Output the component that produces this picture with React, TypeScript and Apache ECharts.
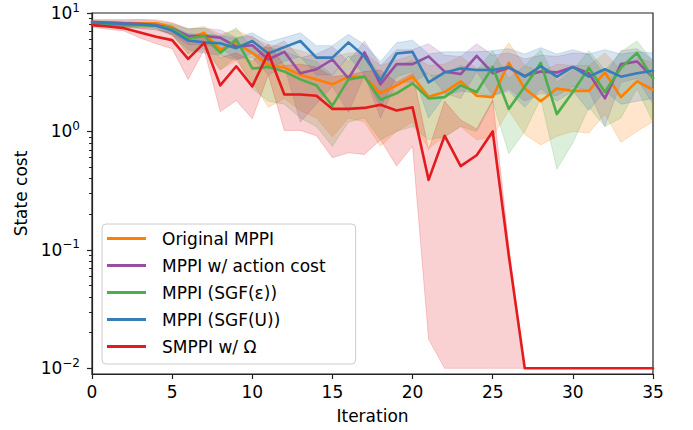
import React, { useEffect, useRef } from "react";
import * as echarts from "echarts";

const FONT = "DejaVu Sans";

const iterations = [0, 1, 2, 3, 4, 5, 6, 7, 8, 9, 10, 11, 12, 13, 14, 15, 16, 17, 18, 19, 20, 21, 22, 23, 24, 25, 26, 27, 28, 29, 30, 31, 32, 33, 34, 35];

const seriesNames = ["Original MPPI", "MPPI w/ action cost", "MPPI (SGF(ε))", "MPPI (SGF(U))", "SMPPI w/ Ω"];
const seriesColors = ["#ff7f00", "#984ea3", "#4daf4a", "#377eb8", "#e41a1c"];

// Original MPPI
const origMean = [8.4, 8.3, 8.2, 8.2, 8.2, 7.6, 6.1, 6.8, 4.9, 5.6, 4.6, 3.65, 3.45, 3.0, 2.75, 2.5, 2.9, 2.9, 2.1, 2.45, 2.9, 1.96, 2.15, 2.65, 2.0, 1.95, 3.8, 2.3, 1.8, 2.3, 2.2, 2.2, 3.15, 1.95, 2.65, 2.25];
const origLow = [7.9, 7.8, 7.6, 7.5, 7.4, 6.5, 4.5, 5.5, 3.3, 4.0, 2.6, 1.6, 1.9, 1.5, 1.3, 0.9, 1.3, 1.2, 0.75, 1.0, 1.2, 0.72, 0.9, 1.1, 0.85, 0.9, 1.5, 0.94, 0.77, 0.91, 1.0, 0.97, 1.4, 0.81, 1.0, 1.21];
const origHigh = [8.7, 8.7, 8.7, 8.8, 8.8, 8.3, 7.3, 7.7, 6.6, 7.2, 6.2, 5.4, 5.2, 4.8, 4.3, 4.2, 4.6, 4.6, 3.6, 4.0, 4.4, 3.6, 3.7, 4.3, 3.4, 3.6, 5.6, 3.6, 3.2, 3.7, 3.6, 3.6, 4.6, 3.3, 4.2, 3.8];

// MPPI w/ action cost
const actMean = [8.4, 8.3, 8.2, 8.1, 7.9, 7.4, 6.4, 6.4, 6.2, 5.2, 5.35, 4.05, 4.7, 3.1, 3.35, 4.05, 2.8, 4.65, 2.5, 3.7, 3.7, 4.3, 3.2, 3.05, 4.35, 3.1, 3.45, 2.95, 3.2, 3.15, 3.5, 3.1, 1.9, 3.7, 3.9, 2.85];
const actLow = [8.0, 7.8, 7.6, 7.4, 7.2, 6.6, 5.4, 5.4, 5.1, 4.1, 4.2, 3.0, 3.6, 1.2, 1.7, 2.4, 1.45, 3.0, 1.3, 2.6, 2.6, 3.1, 2.1, 1.9, 3.2, 2.0, 2.3, 1.8, 2.1, 2.0, 2.4, 2.2, 1.1, 2.6, 2.8, 1.7];
const actHigh = [8.8, 8.8, 8.8, 8.8, 8.6, 8.2, 7.4, 7.4, 7.2, 6.2, 6.4, 5.0, 5.8, 4.2, 4.5, 5.2, 3.9, 5.8, 3.6, 4.9, 4.9, 5.5, 4.4, 4.3, 5.5, 4.4, 4.6, 4.1, 4.4, 4.3, 4.6, 4.5, 3.0, 4.8, 5.0, 4.0];

// MPPI (SGF(eps))
const epsMean = [8.1, 8.0, 7.9, 7.9, 7.8, 7.4, 6.1, 6.4, 4.6, 6.0, 3.4, 3.5, 3.2, 2.75, 2.45, 1.65, 2.75, 2.9, 1.85, 2.1, 2.55, 1.9, 1.95, 2.45, 2.15, 3.5, 1.55, 2.4, 3.8, 1.4, 2.15, 3.45, 2.15, 3.45, 4.6, 2.8];
const epsLow = [7.8, 7.7, 7.6, 7.6, 7.4, 6.6, 4.5, 5.0, 3.3, 4.3, 2.3, 1.8, 1.7, 1.3, 1.1, 0.75, 1.2, 1.3, 0.85, 1.0, 1.1, 0.85, 0.9, 1.1, 1.0, 1.8, 0.65, 1.0, 1.9, 0.48, 0.8, 1.6, 1.1, 1.3, 2.3, 1.2];
const epsHigh = [8.5, 8.5, 8.4, 8.4, 8.3, 8.0, 7.3, 7.5, 6.2, 7.5, 5.0, 5.2, 4.7, 4.2, 3.9, 3.0, 4.3, 4.5, 3.0, 3.5, 4.0, 3.0, 3.0, 3.6, 3.3, 4.8, 2.8, 3.6, 4.9, 2.6, 3.3, 4.8, 3.3, 4.7, 5.8, 3.9];

// MPPI (SGF(U))
const uMean = [8.3, 8.2, 8.1, 8.0, 7.8, 7.1, 5.85, 5.65, 5.55, 5.05, 5.8, 4.55, 5.15, 5.8, 4.2, 4.2, 5.65, 4.3, 2.7, 4.55, 4.7, 2.6, 3.15, 3.4, 3.3, 3.3, 3.5, 2.9, 3.55, 2.9, 3.5, 2.9, 3.35, 2.9, 3.1, 3.25];
const uLow = [8.0, 7.9, 7.8, 7.7, 7.4, 6.5, 4.9, 4.6, 4.4, 4.0, 4.6, 3.4, 3.9, 4.3, 3.0, 3.0, 4.3, 3.0, 1.6, 2.9, 3.2, 1.3, 2.0, 2.2, 2.1, 2.0, 2.2, 1.6, 2.3, 1.8, 2.2, 1.5, 2.2, 1.7, 1.8, 1.9];
const uHigh = [8.6, 8.5, 8.4, 8.3, 8.2, 7.7, 6.7, 6.6, 6.5, 6.1, 6.8, 5.7, 6.2, 6.8, 5.3, 5.3, 6.6, 5.4, 3.9, 5.6, 5.9, 4.5, 4.7, 4.7, 4.7, 4.8, 5.0, 4.5, 5.1, 4.5, 4.9, 4.5, 4.9, 4.5, 4.7, 4.6];

// SMPPI w/ Omega
const smMean = [7.9, 7.7, 7.45, 6.85, 6.3, 5.9, 4.1, 5.6, 2.45, 3.55, 2.4, 4.6, 2.05, 2.05, 2.0, 1.55, 1.55, 1.58, 1.68, 1.5, 1.6, 0.39, 0.92, 0.51, 0.63, 1.0, 0.09, 0.01, 0.01, 0.01, 0.01, 0.01, 0.01, 0.01, 0.01, 0.01];
const smLow = [7.6, 7.3, 7.05, 6.15, 5.5, 5.0, 2.75, 4.9, 1.47, 1.82, 1.28, 3.0, 1.02, 1.02, 0.92, 0.6, 0.66, 0.64, 0.85, 0.51, 0.75, 0.0176, 0.01, 0.01, 0.01, 0.01, 0.01, 0.01, 0.01, 0.01, 0.01, 0.01, 0.01, 0.01, 0.01, 0.01];
const smHigh = [8.2, 8.0, 7.9, 7.5, 7.2, 6.9, 5.6, 6.6, 4.2, 4.6, 3.9, 5.5, 3.6, 3.7, 3.5, 2.9, 3.0, 3.2, 3.3, 2.6, 3.1, 0.7, 1.8, 1.25, 1.05, 1.85, 0.11, 0.01, 0.01, 0.01, 0.01, 0.01, 0.01, 0.01, 0.01, 0.01];

const yTickExponents = [-2, -1, 0, 1];
const minorMultipliers = [2, 3, 4, 5, 6, 7, 8, 9];
const xTickInterval = 5;

const Y_MIN = -2.048;
const Y_MAX = 1.0;

const means = [origMean, actMean, epsMean, uMean, smMean];
const lows = [origLow, actLow, epsLow, uLow, smLow];
const highs = [origHigh, actHigh, epsHigh, uHigh, smHigh];

function hexToRgba(hex: string, a: number) {
  const r = parseInt(hex.slice(1, 3), 16);
  const g = parseInt(hex.slice(3, 5), 16);
  const b = parseInt(hex.slice(5, 7), 16);
  return `rgba(${r},${g},${b},${a})`;
}

function bandSeries(low: number[], high: number[], color: string) {
  return {
    type: "custom",
    silent: true,
    clip: true,
    data: iterations.map((x, i) => [x, Math.log10(low[i]), Math.log10(high[i])]),
    encode: { x: 0, y: [1, 2] },
    renderItem: (params: any, api: any) => {
      if (params.dataIndex !== 0) return null;
      const pts: number[][] = [];
      for (let i = 0; i < iterations.length; i++) {
        pts.push(api.coord([iterations[i], Math.log10(high[i])]));
      }
      for (let i = iterations.length - 1; i >= 0; i--) {
        pts.push(api.coord([iterations[i], Math.log10(low[i])]));
      }
      return {
        type: "polygon",
        shape: { points: pts },
        style: {
          fill: hexToRgba(color, 0.2),
          stroke: hexToRgba(color, 0.2),
          lineWidth: 1,
        },
      };
    },
  };
}

function lineSeries(name: string, vals: number[], color: string) {
  return {
    type: "line",
    name,
    color,
    showSymbol: false,
    symbol: "none",
    clip: true,
    itemStyle: { color },
    lineStyle: { color, width: 2.6, join: "round", cap: "round" },
    data: iterations.map((x, i) => [x, Math.log10(vals[i])]),
  };
}

export default function App() {
  const ref = useRef<HTMLDivElement>(null);

  useEffect(() => {
    document.body.style.margin = "0";
    if (!ref.current) return;
    const chart = echarts.init(ref.current, undefined, { renderer: "svg" });

    const majorTicks = yTickExponents.slice();
    const minorTicks: number[] = [];
    for (let k = -3; k <= 0; k++) {
      for (const m of minorMultipliers) {
        const v = k + Math.log10(m);
        if (v > Y_MIN + 0.01 && v < Y_MAX) minorTicks.push(v);
      }
    }

    const series: any[] = [];
    for (let s = 0; s < seriesNames.length; s++) {
      series.push(bandSeries(lows[s], highs[s], seriesColors[s]));
      series.push(lineSeries(seriesNames[s], means[s], seriesColors[s]));
    }

    const axisColor = "#222222";

    chart.setOption({
      animation: false,
      textStyle: { fontFamily: FONT },
      grid: {
        left: 92,
        right: 40,
        top: 13,
        bottom: 56,
        show: true,
        borderColor: axisColor,
        borderWidth: 1.2,
        backgroundColor: "transparent",
      },
      xAxis: {
        type: "value",
        min: 0,
        max: 35,
        interval: xTickInterval,
        name: "Iteration",
        nameLocation: "middle",
        nameGap: 33,
        nameTextStyle: { fontSize: 17, color: "#000", fontFamily: FONT },
        axisLine: { show: true, onZero: false, lineStyle: { color: axisColor, width: 1.2 } },
        axisTick: { show: true, length: 5, lineStyle: { color: axisColor, width: 1.2 } },
        axisLabel: { fontSize: 17, color: "#000", margin: 9, fontFamily: FONT },
        splitLine: { show: false },
      },
      yAxis: [
        {
          type: "value",
          min: Y_MIN,
          max: Y_MAX,
          name: "State cost",
          nameLocation: "middle",
          nameGap: 62,
          nameRotate: 90,
          nameTextStyle: { fontSize: 17, color: "#000", fontFamily: FONT },
          axisLine: { show: true, onZero: false, lineStyle: { color: axisColor, width: 1.2 } },
          axisTick: { show: true, length: 5, customValues: majorTicks, lineStyle: { color: axisColor, width: 1.2 } },
          axisLabel: {
            show: true,
            customValues: majorTicks,
            margin: 12,
            formatter: (v: number) => {
              const e = Math.round(v);
              const s = e < 0 ? "\u2212" + String(-e) : String(e);
              return `{b|10}{s|${s}}`;
            },
            rich: {
              b: { fontSize: 17, color: "#000", fontFamily: FONT },
              s: { fontSize: 12, color: "#000", fontFamily: FONT, padding: [0, 0, 11, 0] },
            },
          },
          splitLine: { show: false },
        },
        {
          type: "value",
          min: Y_MIN,
          max: Y_MAX,
          position: "left",
          axisLine: { show: false, onZero: false },
          axisTick: { show: true, length: 3, customValues: minorTicks, lineStyle: { color: axisColor, width: 1 } },
          axisLabel: { show: false },
          splitLine: { show: false },
        },
      ],
      legend: {
        orient: "vertical",
        left: 102,
        top: 224,
        data: seriesNames.map((n) => ({ name: n, icon: "rect" })),
        itemWidth: 39,
        itemHeight: 3,
        itemGap: 10,
        selectedMode: false,
        textStyle: { fontSize: 17, color: "#000", fontFamily: FONT, lineHeight: 17, padding: [0, 0, 0, 11] },
        backgroundColor: "rgba(255,255,255,0.8)",
        borderColor: "#cccccc",
        borderWidth: 1,
        borderRadius: 4,
        padding: [6, 30, 9, 5],
      },
      series,
    });

    return () => chart.dispose();
  }, []);

  return <div ref={ref} style={{ width: 693, height: 430 }} />;
}
